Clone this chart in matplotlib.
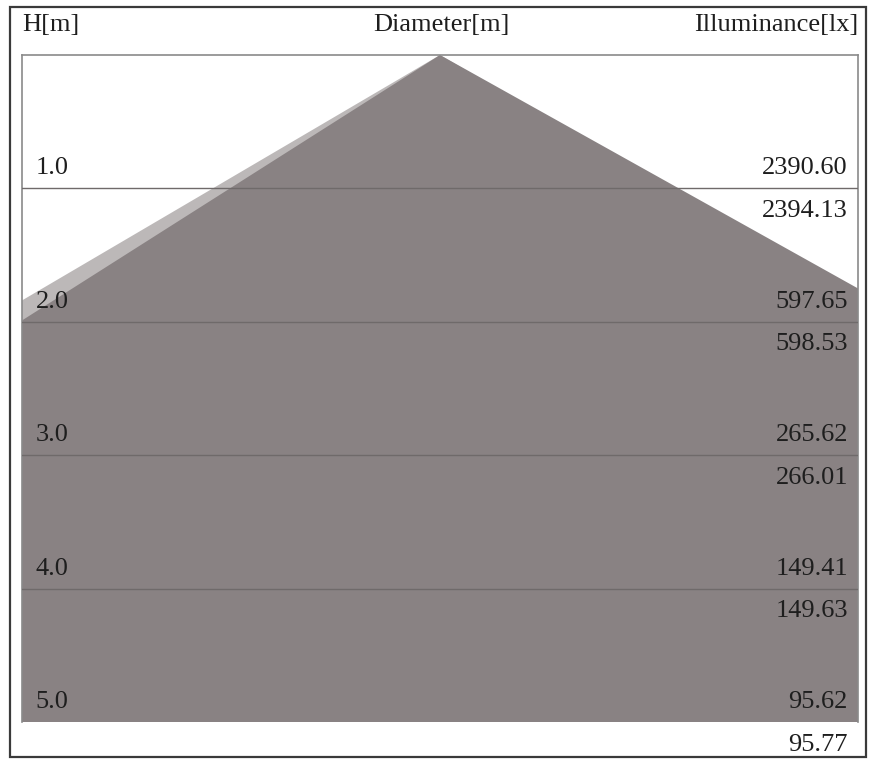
import matplotlib.pyplot as plt
from matplotlib.patches import Rectangle, Polygon

# heights [m] and illuminance values [lx] (two readings per height)
heights = [1.0, 2.0, 3.0, 4.0, 5.0]
lux_upper = [2390.60, 597.65, 265.62, 149.41, 95.62]
lux_lower = [2394.13, 598.53, 266.01, 149.63, 95.77]

# beam edges: height [m] where each edge reaches the side of the box
light_left_h = 1.84
dark_left_h = 1.99
dark_right_h = 1.75
max_h = 5.0

plt.rcParams['font.family'] = ['Liberation Serif', 'DejaVu Serif']

W, H = 872, 759
fig = plt.figure(figsize=(W / 100, H / 100), dpi=100)

# outer frame
fig.patches.append(Rectangle((10 / W, 1 - 757 / H), 856 / W, 750 / H,
                             transform=fig.transFigure, fill=False,
                             edgecolor='#3a3a3a', linewidth=1.6))

# inner box
ax = fig.add_axes([22 / W, 1 - 722 / H, 836 / W, 667 / H])
ax.set_xlim(-1, 1)
ax.set_ylim(max_h, 0)
ax.set_xticks([])
ax.set_yticks([])
for side in ['top', 'left', 'right']:
    ax.spines[side].set_color('#8a8a8a')
    ax.spines[side].set_linewidth(1.2)
ax.spines['bottom'].set_visible(False)

light = Polygon([(0, 0), (-1, light_left_h), (-1, max_h), (1, max_h), (1, light_left_h)],
                closed=True, facecolor='#bcb8b8', edgecolor='none', zorder=1)
dark = Polygon([(0, 0), (-1, dark_left_h), (-1, max_h), (1, max_h), (1, dark_right_h)],
               closed=True, facecolor='#898283', edgecolor='none', zorder=2)
ax.add_patch(light)
ax.add_patch(dark)

for h in heights[:-1]:
    ax.axhline(h, color='#6f6a6a', linewidth=1.0, zorder=3)

fs = 19
for h, up, lo in zip(heights, lux_upper, lux_lower):
    ax.text(0.016, h - 0.15, f'{h:.1f}', ha='left', va='center', fontsize=fs,
            color='#1e1e1e', transform=ax.get_yaxis_transform(), zorder=4)
    ax.text(0.988, h - 0.15, f'{up:.2f}', ha='right', va='center', fontsize=fs,
            color='#1e1e1e', transform=ax.get_yaxis_transform(), zorder=4)
    ax.text(0.988, h + 0.17, f'{lo:.2f}', ha='right', va='center', fontsize=fs,
            color='#1e1e1e', transform=ax.get_yaxis_transform(), zorder=4,
            clip_on=False)

# header row
fig.text(22 / W, 1 - 25 / H, 'H[m]', ha='left', va='center', fontsize=fs, color='#1e1e1e')
fig.text(441 / W, 1 - 25 / H, 'Diameter[m]', ha='center', va='center', fontsize=fs, color='#1e1e1e')
fig.text(858 / W, 1 - 25 / H, 'Illuminance[lx]', ha='right', va='center', fontsize=fs, color='#1e1e1e')

fig.savefig('out.png', dpi=100)
